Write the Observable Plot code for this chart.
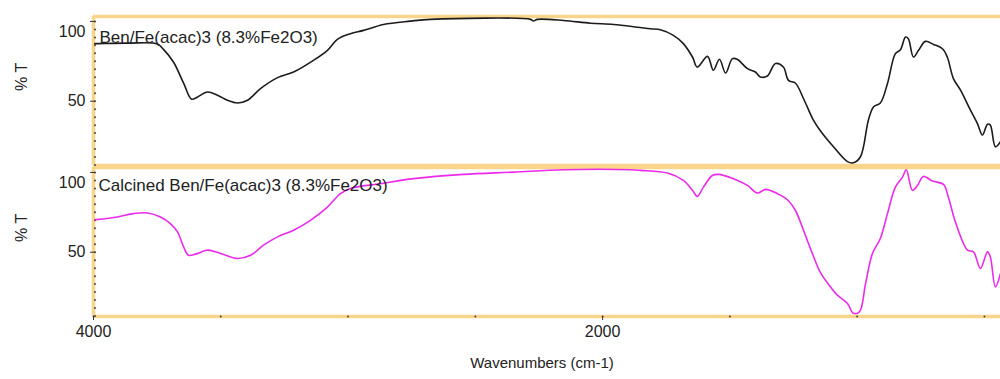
<!DOCTYPE html>
<html><head><meta charset="utf-8">
<script src="https://cdn.jsdelivr.net/npm/d3@7"></script>
<script src="https://cdn.jsdelivr.net/npm/@observablehq/plot@0.6"></script>
<style>html,body{margin:0;padding:0;background:#fff}#chart svg{display:block}</style>
</head><body><div id="chart"></div>
<script>
const panels = ["Ben/Fe(acac)3 (8.3%Fe2O3)", "Calcined Ben/Fe(acac)3 (8.3%Fe2O3)"];

const wnTop = [3995, 3985, 3866, 3749, 3725, 3686, 3646, 3615, 3591, 3552, 3513, 3474, 3434, 3395, 3344, 3277, 3214, 3136, 3081, 3042, 2991, 2939, 2861, 2755, 2676, 2283, 2272, 2256, 2154, 2048, 1957, 1863, 1812, 1773, 1722, 1683, 1647, 1628, 1588, 1565, 1541, 1517, 1490, 1470, 1431, 1400, 1380, 1353, 1321, 1290, 1270, 1243, 1211, 1172, 1144, 1093, 1038, 1015, 987, 956, 936, 909, 881, 850, 830, 810, 799, 779, 759, 732, 700, 665, 646, 622, 594, 555, 528, 508, 488, 477, 457, 437];
const tTop = [86.1, 86.1, 86.4, 85.9, 82.5, 74.6, 61.3, 51.3, 52.7, 55.8, 53.8, 50.6, 48.9, 50.6, 57.9, 64.8, 68.3, 75.6, 81.9, 88.8, 92.3, 94.4, 98.1, 100.2, 101.3, 101.3, 100.3, 101.3, 100.6, 98.9, 98.1, 96.4, 95.4, 94.8, 91.3, 86.1, 77.7, 71.4, 78.1, 69.4, 76.3, 67.7, 76.7, 76.1, 70.4, 68.3, 65.2, 65.8, 73.6, 71.4, 63.1, 61.4, 51.7, 38.1, 31.3, 21.4, 12.1, 11.4, 15.2, 38.1, 46.4, 48.9, 61.1, 79.8, 82.3, 90.2, 89.2, 77.7, 81.9, 87.5, 85.6, 82.9, 77.7, 64.2, 56.9, 44.4, 36.1, 28.8, 35.6, 35, 21.4, 24.6];

const wnBottom = [3992, 3906, 3843, 3788, 3737, 3698, 3670, 3646, 3627, 3599, 3552, 3501, 3434, 3383, 3332, 3277, 3214, 3148, 3081, 3030, 2991, 2873, 2743, 2547, 2350, 2154, 1891, 1851, 1745, 1683, 1647, 1628, 1604, 1569, 1545, 1486, 1431, 1392, 1360, 1313, 1274, 1243, 1211, 1176, 1144, 1105, 1078, 1038, 1015, 991, 967, 940, 909, 881, 850, 822, 807, 783, 763, 740, 704, 661, 642, 614, 567, 543, 516, 488, 477, 457, 437];
const tBottom = [70.4, 72.1, 74.2, 74.6, 72.1, 67.9, 62.7, 53.3, 48.1, 48.8, 51.3, 49.2, 46.1, 48.1, 54.4, 59.6, 63.8, 70, 78.3, 86.7, 90, 92.9, 96.1, 98.8, 100.2, 101.7, 101.7, 101.3, 99.6, 95, 88.8, 85, 90.8, 98.1, 98.8, 96.1, 91.9, 87.1, 89.4, 86.7, 82.9, 76.3, 63.8, 49.2, 37.2, 28.3, 23.1, 17.9, 11.7, 12.7, 30.4, 49.2, 58.6, 74.2, 90.8, 97.1, 101.7, 88.8, 91.9, 97.5, 94.6, 92.5, 84.6, 68.9, 51.3, 50.2, 39.8, 50.2, 47.1, 28.3, 36.7];

const xMajorTicks = [4000, 2000];
const xMinorTicks = [4000, 3500, 3000, 2500, 2000, 1500, 1000, 500];
const yMajorTicks = [50, 100];
const yMinorTicks = [10, 15, 20, 25, 30, 35, 40, 45, 50, 55, 60, 65, 70, 75, 80, 85, 90, 95, 100];
const yLabel = "% T";
const xLabel = "Wavenumbers (cm-1)";
const xDomain = [4000, 437];
const yDomain = [9.7, 103.1];
const lineColors = ["#1c1c1c", "#ec2aec"];

const rows = [
  ...wnTop.map((w, i) => ({panel: panels[0], w, t: tTop[i]})),
  ...wnBottom.map((w, i) => ({panel: panels[1], w, t: tBottom[i]}))
];
const frameRows = panels.map(p => ({panel: p}));
const yMinorRows = panels.flatMap(p => yMinorTicks.map(v => ({panel: p, v})));
const yMajorRows = panels.flatMap(p => yMajorTicks.map(v => ({panel: p, v})));
const xMinorRows = xMinorTicks.map(v => ({panel: panels[1], v}));

const orange = "#f8d58a";
const font = "'Liberation Sans', Arial, sans-serif";

const chart = Plot.plot({
  width: 1000, height: 379,
  marginLeft: 93, marginRight: 0, marginTop: 16, marginBottom: 62,
  style: {fontFamily: font, background: "#fff", color: "#222", overflow: "visible"},
  x: {domain: xDomain, axis: null},
  y: {domain: yDomain, axis: null},
  fy: {domain: panels, axis: null, paddingInner: 0.01, paddingOuter: 0},
  color: {domain: panels, range: lineColors},
  marks: [
    Plot.ruleY(frameRows, {fy: "panel", y: () => yDomain[1], stroke: orange, strokeWidth: 3.5}),
    Plot.ruleY(frameRows, {fy: "panel", y: () => yDomain[0], stroke: orange, strokeWidth: 3.5}),
    Plot.ruleX(frameRows, {fy: "panel", x: () => xDomain[0], stroke: orange, strokeWidth: 3.5}),
    Plot.dot(yMinorRows, {fy: "panel", y: "v", frameAnchor: "left", dx: 1.5, r: 1, fill: "#444", stroke: null}),
    Plot.axisY(yMajorTicks, {tickSize: 5, dx: 2, tickFormat: () => "", stroke: "#333", label: null}),
    Plot.text(yMajorRows.filter(d => d.v === 50), {fy: "panel", y: "v", text: d => String(d.v), frameAnchor: "left", dx: -8, textAnchor: "end", fontSize: 16, fill: "#222"}),
    Plot.text(yMajorRows.filter(d => d.v === 100), {fy: "panel", y: "v", text: d => String(d.v), frameAnchor: "left", dx: -8, dy: 10, textAnchor: "end", fontSize: 16, fill: "#222"}),
    Plot.text(frameRows, {fy: "panel", text: () => yLabel, frameAnchor: "left", dx: -72, rotate: -90, fontSize: 16, fill: "#222"}),
    Plot.dot(xMinorRows, {fy: "panel", x: "v", frameAnchor: "bottom", r: 1, fill: "#444", stroke: null}),
    Plot.axisX(xMajorTicks, {tickSize: 4, tickPadding: 5, fontSize: 16, tickFormat: d => String(d), label: null, stroke: "#333"}),
    Plot.text([{panel: panels[1]}], {fy: "panel", text: () => xLabel, frameAnchor: "bottom", dx: -5, dy: 51, fontSize: 15, fill: "#222"}),
    Plot.line(rows, {fy: "panel", x: "w", y: "t", stroke: "panel", strokeWidth: 1.6, curve: "catmull-rom"}),
    Plot.text([{panel: panels[0]}], {fy: "panel", text: "panel", frameAnchor: "top-left", dx: 6, dy: 21.5, lineAnchor: "middle", textAnchor: "start", fontSize: 17, fill: "#222"}),
    Plot.text([{panel: panels[1]}], {fy: "panel", text: "panel", frameAnchor: "top-left", dx: 5, dy: 18.5, lineAnchor: "middle", textAnchor: "start", fontSize: 17, fill: "#222"})
  ]
});
document.getElementById("chart").append(chart);
</script>
</body></html>
